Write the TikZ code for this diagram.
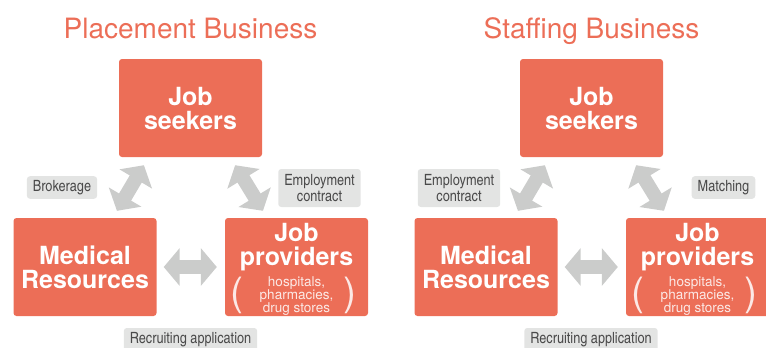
\documentclass[tikz,border=0pt]{standalone}
\usepackage{fontspec}
\setmainfont{TeX Gyre Heros}
\newfontfamily\condfont{texgyreheroscn-regular.otf}
\usetikzlibrary{arrows.meta,calc}
\lineskiplimit=-5pt

\definecolor{salmon}{HTML}{EC6E57}
\definecolor{arrowgray}{HTML}{CBCCCB}
\definecolor{lblgray}{HTML}{E3E4E3}
\definecolor{lbltext}{HTML}{4A4A4A}

\tikzset{
  bigbox/.style={fill=salmon, rounded corners=3pt, minimum width=143pt, minimum height=98pt,
    inner sep=0pt, text=white, align=center, font=\bfseries\fontsize{25}{24}\selectfont},
  boxtext/.style={text=white, align=center, inner sep=0pt, font=\bfseries\fontsize{25}{24}\selectfont},
  subtext/.style={text=white!85!salmon, align=center, inner sep=0pt,
    font=\fontsize{13.5}{12.8}\selectfont},
  paren/.style={text=white!85!salmon, inner sep=0pt, font=\fontsize{39}{39}\selectfont},
  lbl/.style={fill=lblgray, text=lbltext, rounded corners=3pt, align=center,
    inner xsep=6pt, inner ysep=4pt, minimum height=21pt, font=\condfont\fontsize{15.5}{16}\selectfont},
  title/.style={text=salmon, anchor=base, inner sep=0pt, font=\fontsize{28}{30}\selectfont},
  duo/.style={draw=arrowgray, line width=14pt,
    {Triangle[length=16pt,width=37pt]}-{Triangle[length=16pt,width=37pt]}}
}

\begin{document}
\begin{tikzpicture}[x=1pt,y=1pt,yscale=-1,xscale=1]
\useasboundingbox (0,0) rectangle (766,348);
% placement business
\node[title] (titleL) at (190.5,38) {Placement Business};
\node[bigbox] (seek) at (190.5,108) {Job\\seekers};
\node[bigbox] (med) at (85,267) {Medical\\Resources};
\node[bigbox] (prov) at (296.5,267) {};
\node[boxtext] (provtxt) at (296.5,247.5) {Job\\providers};
\node[subtext] (provsub) at (296.5,296) {hospitals,\\pharmacies,\\drug stores};
\node[paren] (lparen) at (236.5,295.5) {(};
\node[paren] (rparen) at (349.5,295.5) {)};
\node[lbl] (broker) at (62,187.5) {Brokerage};
\node[lbl, minimum height=38pt] (contract) at (319.5,188) {Employment\\contract};
\node[lbl, minimum height=24pt] (recruit) at (190.5,340) {Recruiting application};
\draw[duo, shorten <=9.3pt, shorten >=8.1pt] ($(seek.south west)!0.208!(seek.south east)$) -- ($(med.north west)!0.694!(med.north east)$);
\draw[duo, shorten <=9.4pt, shorten >=8.2pt] ($(seek.south west)!0.777!(seek.south east)$) -- ($(prov.north west)!0.296!(prov.north east)$);
\draw[duo, shorten <=7pt, shorten >=8pt] (med) -- (prov);
% staffing business
\begin{scope}[shift={(401,0)}]
\node[title] (titleR) at (190.5,38) {Staffing Business};
\node[bigbox] (seekR) at (190.5,108) {Job\\seekers};
\node[bigbox] (medR) at (85,267) {Medical\\Resources};
\node[bigbox] (provR) at (296.5,267) {};
\node[boxtext] (provtxtR) at (296.5,247.5) {Job\\providers};
\node[subtext] (provsubR) at (296.5,296) {hospitals,\\pharmacies,\\drug stores};
\node[paren] (lparenR) at (236.5,295.5) {(};
\node[paren] (rparenR) at (349.5,295.5) {)};
\node[lbl, minimum height=38pt] (contractR) at (58,188) {Employment\\contract};
\node[lbl] (match) at (322.5,187.5) {Matching};
\node[lbl, minimum height=24pt] (recruitR) at (190,340) {Recruiting application};
\draw[duo, shorten <=9.3pt, shorten >=8.1pt] ($(seekR.south west)!0.208!(seekR.south east)$) -- ($(medR.north west)!0.694!(medR.north east)$);
\draw[duo, shorten <=9.4pt, shorten >=8.2pt] ($(seekR.south west)!0.777!(seekR.south east)$) -- ($(provR.north west)!0.296!(provR.north east)$);
\draw[duo, shorten <=7pt, shorten >=8pt] (medR) -- (provR);
\end{scope}
\end{tikzpicture}
\end{document}
